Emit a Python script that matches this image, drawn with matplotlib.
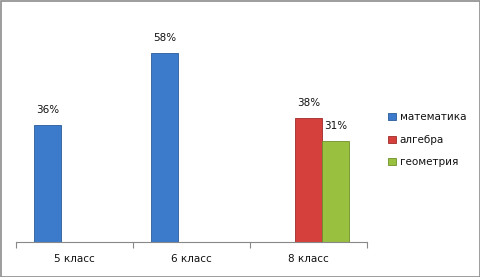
import matplotlib
matplotlib.use("Agg")
import matplotlib.pyplot as plt
import numpy as np
from matplotlib.patches import Rectangle

categories = ["5 класс", "6 класс", "8 класс"]
series_names = ["математика", "алгебра", "геометрия"]
matematika = [0.36, 0.58, np.nan]
algebra = [np.nan, np.nan, 0.38]
geometria = [np.nan, np.nan, 0.31]
values = [matematika, algebra, geometria]
colors = ["#3C7BCB", "#D5403D", "#99C03F"]
edges = ["#2A5A98", "#9E2B29", "#6E8F2A"]

plt.rcParams['font.family'] = ['DejaVu Sans']
fig = plt.figure(figsize=(4.81, 2.77), dpi=100)
ax = fig.add_axes([16/481, 35/277, 351/481, 228/277])

w = 27/117
x = np.arange(len(categories))
for i, (name, vals) in enumerate(zip(series_names, values)):
    vals = np.array(vals, dtype=float)
    mask = ~np.isnan(vals)
    xs = x[mask] + (i - 1) * w
    bars = ax.bar(xs, vals[mask], width=w, color=colors[i], edgecolor=edges[i],
                  linewidth=0.6, label=name)
    for b, v in zip(bars, vals[mask]):
        ax.text(b.get_x() + b.get_width()/2, v + 0.03, f"{v*100:.0f}%",
                ha='center', va='bottom', fontsize=7.5, color='#111111')

ax.set_xlim(-0.5, 2.5)
ax.set_ylim(0, 0.7)
ax.set_yticks([])
for s in ['top', 'right', 'left']:
    ax.spines[s].set_visible(False)
ax.spines['bottom'].set_color('#888888')
ax.spines['bottom'].set_linewidth(0.8)
ax.set_xticks(x)
ax.set_xticklabels(categories, fontsize=7.5, color='#111111')
ax.tick_params(axis='x', which='major', length=0, pad=9)
ax.set_xticks([-0.5, 0.5, 1.5, 2.5], minor=True)
ax.tick_params(axis='x', which='minor', length=4, color='#888888', width=0.8)

leg = fig.legend(loc='upper left', bbox_to_anchor=(379/481, 1 - 103/277),
                 frameon=False, fontsize=7.5, handlelength=0.7, handleheight=0.7,
                 labelspacing=1.2, handletextpad=0.4)
for t in leg.get_texts():
    t.set_color('#111111')

fig.patches.append(Rectangle((0.5/481, 0.5/277), 1 - 1.5/481, 1 - 1.5/277,
                             transform=fig.transFigure, fill=False,
                             edgecolor='#8C8C8C', linewidth=1.2))
fig.savefig("out.png", dpi=100)
